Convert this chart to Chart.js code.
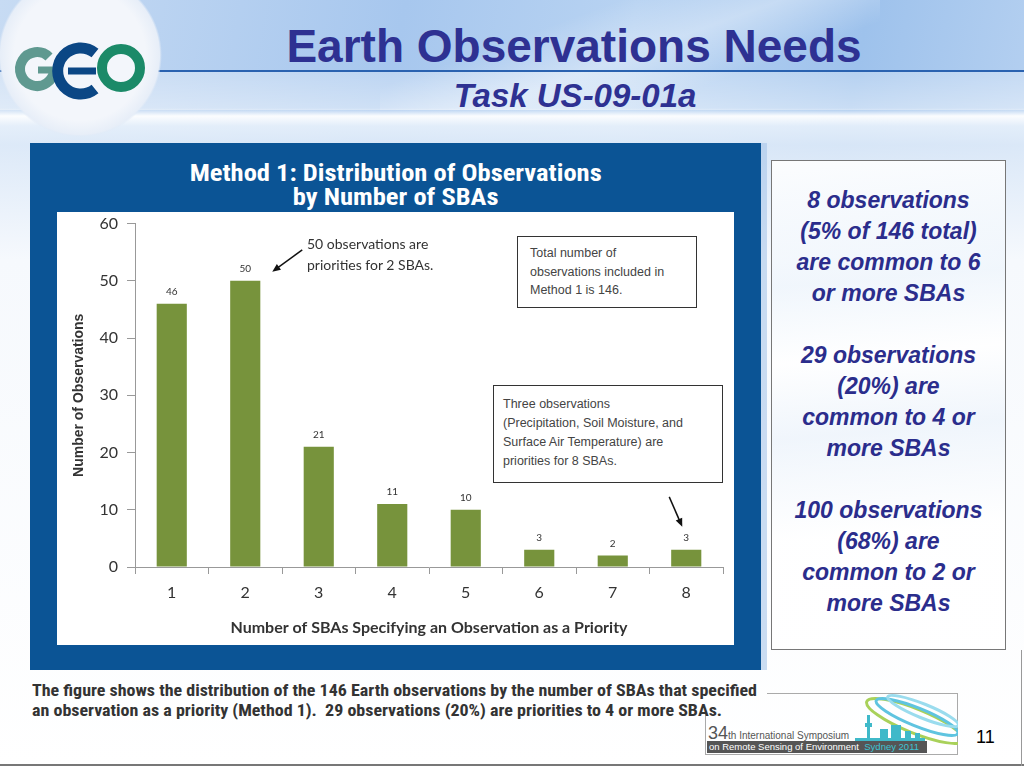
<!DOCTYPE html>
<html><head><meta charset="utf-8">
<script src="https://cdn.jsdelivr.net/npm/chart.js@4.4.1/dist/chart.umd.min.js"></script>
<style>
html,body{margin:0;padding:0}
body{width:1024px;height:768px;position:relative;overflow:hidden;font-family:"Liberation Sans",Arial,sans-serif;
background:
 linear-gradient(to bottom, rgba(255,255,255,0) 0px, rgba(255,255,255,0) 108px, rgba(255,255,255,0.95) 116px, rgba(232,241,251,0.9) 126px, rgba(225,236,249,0.85) 145px, rgba(246,249,253,1) 260px, #ffffff 768px),
 linear-gradient(100deg, #c7dbf3 0%, #a7c7ee 35%, #b8d3f2 55%, #9ec2ec 75%, #c2d8f3 100%);}
.abs{position:absolute}
</style></head><body>

<!-- header streaks -->
<div class="abs" style="left:380px;top:0;width:500px;height:110px;background:linear-gradient(160deg,rgba(255,255,255,0) 30%,rgba(255,255,255,0.35) 50%,rgba(255,255,255,0) 70%);"></div>
<div class="abs" style="left:0;top:72px;width:1024px;height:38px;background:linear-gradient(to bottom,rgba(255,255,255,0.25),rgba(255,255,255,0.45));"></div>
<div class="abs" style="left:0;top:70px;width:1024px;height:2px;background:#2a62b0;"></div>

<!-- GEO logo -->
<svg class="abs" style="left:0;top:0" width="200" height="150">
  <defs>
    <radialGradient id="wg" cx="50%" cy="50%" r="50%">
      <stop offset="0.8" stop-color="#f3f6fb"/>
      <stop offset="0.97" stop-color="#e7eef8"/>
      <stop offset="1" stop-color="#dfe9f6" stop-opacity="0"/>
    </radialGradient>
  </defs>
  <circle cx="80" cy="55" r="82" fill="url(#wg)"/>
  <path d="M 49 57 A 17 17 0 1 0 54 70" fill="none" stroke="#5f9990" stroke-width="10"/>
  <line x1="38" y1="70" x2="57" y2="70" stroke="#5f9990" stroke-width="7"/>
  <path d="M 95 53 A 23 23 0 1 0 95 89" fill="none" stroke="#0b4785" stroke-width="11"/>
  <line x1="68" y1="71" x2="96" y2="71" stroke="#0b4785" stroke-width="7"/>
  <circle cx="121" cy="68" r="19" fill="none" stroke="#1b8a68" stroke-width="10"/>
</svg>

<!-- titles -->
<div class="abs" style="left:0;top:20px;width:1148px;text-align:center;font-weight:bold;font-size:46px;line-height:52px;color:#2e3192;">Earth Observations Needs</div>
<div class="abs" style="left:0;top:77px;width:1150px;text-align:center;font-weight:bold;font-style:italic;font-size:33px;line-height:38px;color:#2e3192;">Task US-09-01a</div>

<!-- blue panel -->
<div class="abs" style="left:30px;top:143px;width:731px;height:527px;background:#0b5495;"></div>
<div class="abs" style="left:761px;top:143px;width:6px;height:527px;background:#a9c6ea;opacity:0.6"></div>
<div class="abs" style="left:30px;top:162px;width:732px;text-align:center;color:#fff;">
  <span id="ptitle" style="display:inline-block;font-family:'Roboto Condensed',sans-serif;font-weight:bold;font-size:23px;line-height:24px;white-space:nowrap;">Method 1: Distribution of Observations<br>by Number of SBAs</span>
</div>
<div class="abs" style="left:57px;top:212px;width:677px;height:433px;background:#fff;"></div>
<canvas id="c" class="abs" width="677" height="440" style="left:57px;top:205px;width:677px;height:440px;"></canvas>

<!-- annotations -->
<div class="abs" style="left:307px;top:233px;font-family:Lato,sans-serif;font-size:14px;line-height:21px;color:#333;">50 observations are<br>priorities for 2 SBAs.</div>
<div class="abs" style="left:517px;top:236px;width:180px;height:72px;border:1.5px solid #333;box-sizing:border-box;background:#fff;"></div>
<div class="abs" style="left:530px;top:244px;font-size:12.5px;line-height:18.5px;color:#444;">Total number of<br>observations included in<br>Method 1 is 146.</div>
<div class="abs" style="left:493px;top:385px;width:230px;height:98px;border:1.5px solid #333;box-sizing:border-box;background:#fff;"></div>
<div class="abs" style="left:503px;top:395px;font-size:12.5px;line-height:19px;color:#444;">Three observations<br>(Precipitation, Soil Moisture, and<br>Surface Air Temperature) are<br>priorities for 8 SBAs.</div>

<!-- right text box -->
<div class="abs" style="left:771px;top:160px;width:235px;height:490px;border:1px solid #777;box-sizing:border-box;background:linear-gradient(175deg,rgba(255,255,255,0.9) 0%,rgba(238,245,252,0.7) 25%,rgba(255,255,255,0.9) 40%,rgba(236,243,251,0.7) 55%,rgba(255,255,255,0.9) 75%);"></div>
<div class="abs" style="left:771px;top:185px;width:235px;text-align:center;font-weight:bold;font-style:italic;font-size:23px;line-height:31px;color:#2b2d8c;">8 observations<br>(5% of 146 total)<br>are common to 6<br>or more SBAs<br><br>29 observations<br>(20%) are<br>common to 4 or<br>more SBAs<br><br>100 observations<br>(68%) are<br>common to 2 or<br>more SBAs</div>

<!-- symposium logo -->
<div class="abs" style="left:767px;top:693px;width:191px;height:1px;background:#aaa;"></div>
<div class="abs" style="left:957px;top:693px;width:1px;height:61px;background:#aaa;"></div>
<div class="abs" style="left:705px;top:754px;width:253px;height:1px;background:#aaa;"></div>
<div class="abs" style="left:705px;top:712px;width:1px;height:42px;background:#aaa;"></div>
<svg class="abs" style="left:705px;top:693px" width="253" height="61">
  <g fill="none" stroke-width="3">
    <ellipse cx="210" cy="28" rx="52" ry="12" transform="rotate(22 210 28)" stroke="#a9d15a"/>
    <ellipse cx="212" cy="24" rx="44" ry="9" transform="rotate(22 212 24)" stroke="#5fc4e0"/>
    <ellipse cx="218" cy="18" rx="38" ry="7" transform="rotate(22 218 18)" stroke="#9adcee"/>
  </g>
  <g fill="#3fb9c9">
    <rect x="150" y="45" width="70" height="14"/>
    <rect x="162" y="22" width="3" height="25"/>
    <rect x="160" y="30" width="7" height="4"/>
    <rect x="175" y="36" width="8" height="12"/>
    <rect x="186" y="32" width="10" height="16"/>
    <rect x="200" y="38" width="6" height="10"/>
    <rect x="210" y="40" width="5" height="8"/>
    <path d="M 142 58 Q 152 40 165 58 Z"/>
  </g>
</svg>
<div class="abs" style="left:708px;top:723px;color:#555;white-space:nowrap;"><span style="font-size:18px;">34</span><span style="font-size:10px;">th International Symposium</span></div>
<div class="abs" style="left:707px;top:741px;width:220px;height:12px;background:#555;color:#fff;font-size:9.5px;line-height:12px;white-space:nowrap;padding-left:2px;box-sizing:border-box;">on Remote Sensing of Environment <span style="color:#3ec3d3;">&nbsp;Sydney 2011</span></div>
<div class="abs" style="left:976px;top:727px;font-size:18px;color:#000;">11</div>

<!-- caption -->
<div id="cap" class="abs" style="left:32px;top:681px;font-family:'Roboto Condensed',sans-serif;font-weight:bold;font-size:16px;line-height:20px;color:#333;white-space:nowrap;transform-origin:0 0;">The figure shows the distribution of the 146 Earth observations by the number of SBAs that specified<br>an observation as a priority (Method 1).&nbsp; 29 observations (20%) are priorities to 4 or more SBAs.</div>

<div class="abs" style="left:0;top:764px;width:1024px;height:2px;background:#777;"></div>
<div class="abs" style="left:1021px;top:650px;width:1px;height:116px;background:#999;"></div>

<script>
const categories = ['1','2','3','4','5','6','7','8'];
const observations = [46, 50, 21, 11, 10, 3, 2, 3];
const yMin = 0, yMax = 60, yStep = 10;
const xTitle = 'Number of SBAs Specifying an Observation as a Priority';
const yTitle = 'Number of Observations';

function fitWidth(el, target) {
  const w = el.getBoundingClientRect().width;
  el.style.transform = 'scaleX(' + (target / w) + ')';
}
const cap = document.getElementById('cap');
fitWidth(cap, 725);
const pt = document.getElementById('ptitle');
fitWidth(pt, 412);

const valueLabels = {
  id: 'valueLabels',
  afterDatasetsDraw(chart) {
    const ctx = chart.ctx;
    const meta = chart.getDatasetMeta(0);
    ctx.save();
    ctx.font = '10px Lato, sans-serif';
    ctx.fillStyle = '#333';
    ctx.textAlign = 'center';
    ctx.textBaseline = 'bottom';
    meta.data.forEach((el, i) => {
      ctx.fillText(String(chart.data.datasets[0].data[i]), el.x, el.y - 7);
    });
    ctx.restore();
  }
};

function arrow(ctx, x1, y1, x2, y2) {
  const a = Math.atan2(y2 - y1, x2 - x1);
  const h = 9;
  ctx.beginPath();
  ctx.moveTo(x1, y1);
  ctx.lineTo(x2 - Math.cos(a) * 4, y2 - Math.sin(a) * 4);
  ctx.stroke();
  ctx.beginPath();
  ctx.moveTo(x2, y2);
  ctx.lineTo(x2 - h * Math.cos(a - 0.4), y2 - h * Math.sin(a - 0.4));
  ctx.lineTo(x2 - h * Math.cos(a + 0.4), y2 - h * Math.sin(a + 0.4));
  ctx.closePath();
  ctx.fill();
}

const arrows = {
  id: 'arrows',
  afterDatasetsDraw(chart) {
    const ctx = chart.ctx;
    const meta = chart.getDatasetMeta(0);
    ctx.save();
    ctx.strokeStyle = '#111';
    ctx.fillStyle = '#111';
    ctx.lineWidth = 1.5;
    const b2 = meta.data[1];
    const t1x = b2.x + 27, t1y = b2.y - 9;
    arrow(ctx, t1x + 30, t1y - 22, t1x, t1y);
    const b8 = meta.data[7];
    const t2x = b8.x - 4, t2y = b8.y - 23;
    arrow(ctx, t2x - 13, t2y - 30, t2x, t2y);
    ctx.restore();
  }
};

new Chart(document.getElementById('c'), {
  type: 'bar',
  data: {
    labels: categories,
    datasets: [{
      data: observations,
      backgroundColor: '#77933c',
      barPercentage: 0.41,
      categoryPercentage: 1
    }]
  },
  options: {
    responsive: false,
    animation: false,
    devicePixelRatio: 1,
    layout: { padding: { top: 5, right: 11, left: 0, bottom: 0 } },
    plugins: { legend: { display: false }, tooltip: { enabled: false } },
    scales: {
      x: {
        grid: { drawOnChartArea: false, tickLength: 7, color: '#999', offset: true },
        border: { color: '#999' },
        ticks: { font: { family: 'Lato', size: 16 }, color: '#333', padding: 9 },
        title: { display: true, text: xTitle, font: { family: 'Lato', size: 16, weight: 'bold' }, color: '#333', padding: { top: 0, bottom: 8 } },
        afterFit(s) { s.height = 78; }
      },
      y: {
        min: yMin, max: yMax,
        ticks: { stepSize: yStep, font: { family: 'Lato', size: 16 }, color: '#333', padding: 9 },
        grid: { drawOnChartArea: false, tickLength: 8, color: '#999' },
        border: { color: '#999' },
        title: { display: true, text: yTitle, font: { family: 'Liberation Sans', size: 14, weight: 'bold' }, color: '#333', padding: { top: 14, bottom: 0 } },
        afterFit(s) { s.width = 78; }
      }
    }
  },
  plugins: [valueLabels, arrows]
});
</script>
</body></html>
